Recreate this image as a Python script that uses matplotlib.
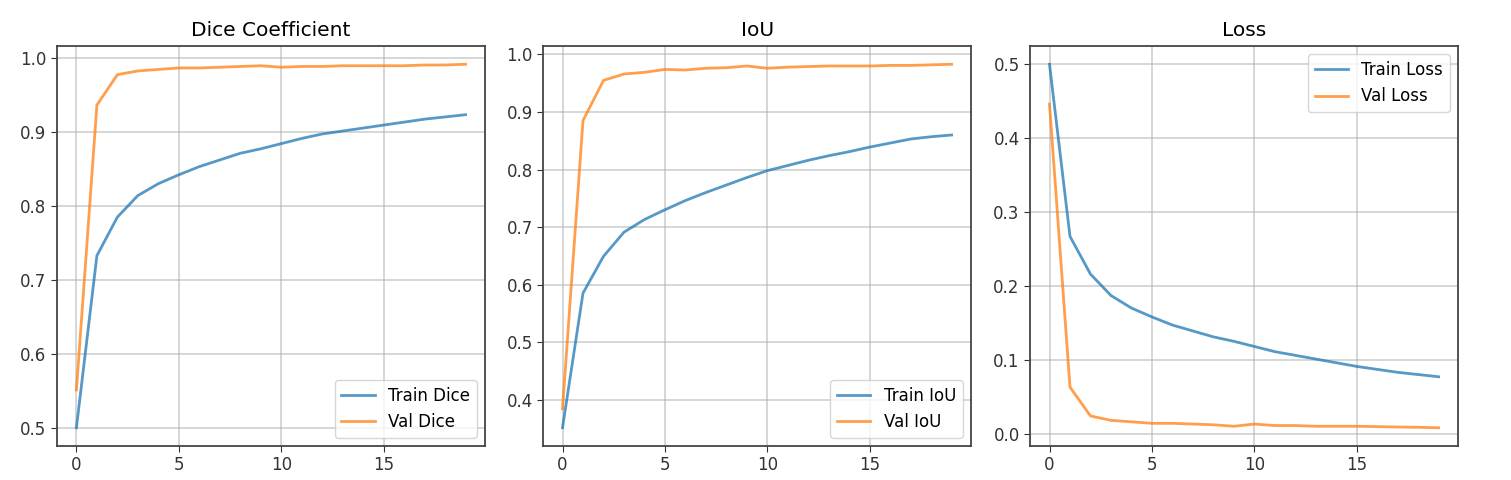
import matplotlib
matplotlib.use("Agg")
import matplotlib.pyplot as plt
import numpy as np

# ============================
# Training history
# ============================
epochs = np.arange(20)

train_dice = [0.501, 0.733, 0.785, 0.814, 0.830, 0.842, 0.853, 0.862, 0.871, 0.877,
              0.884, 0.891, 0.897, 0.901, 0.905, 0.909, 0.913, 0.917, 0.920, 0.923]
val_dice = [0.552, 0.936, 0.977, 0.982, 0.984, 0.986, 0.986, 0.987, 0.988, 0.989,
            0.987, 0.988, 0.988, 0.989, 0.989, 0.989, 0.989, 0.990, 0.990, 0.991]

train_iou = [0.351, 0.585, 0.649, 0.691, 0.713, 0.730, 0.746, 0.760, 0.773, 0.786,
             0.798, 0.807, 0.816, 0.824, 0.831, 0.839, 0.846, 0.853, 0.857, 0.860]
val_iou = [0.384, 0.885, 0.955, 0.966, 0.969, 0.974, 0.973, 0.976, 0.977, 0.980,
           0.976, 0.978, 0.979, 0.980, 0.980, 0.980, 0.981, 0.981, 0.982, 0.983]

train_loss = [0.500, 0.267, 0.216, 0.187, 0.170, 0.158, 0.147, 0.139, 0.131, 0.125,
              0.118, 0.111, 0.106, 0.101, 0.096, 0.091, 0.087, 0.083, 0.080, 0.077]
val_loss = [0.446, 0.063, 0.024, 0.018, 0.016, 0.014, 0.014, 0.013, 0.012, 0.010,
            0.013, 0.011, 0.011, 0.010, 0.010, 0.010, 0.0095, 0.009, 0.0086, 0.008]

panels = [
    ("Dice Coefficient", train_dice, val_dice, "Train Dice", "Val Dice", "lower right"),
    ("IoU", train_iou, val_iou, "Train IoU", "Val IoU", "lower right"),
    ("Loss", train_loss, val_loss, "Train Loss", "Val Loss", "upper right"),
]

# ============================
# Plot
# ============================
fig = plt.figure(figsize=(15.11, 4.8), dpi=100)
lefts = [0.0377, 0.3594, 0.6817]
width = 0.2833

for left, (title, tr, va, tr_lab, va_lab, loc) in zip(lefts, panels):
    ax = fig.add_axes([left, 0.071, width, 0.833])
    ax.plot(epochs, tr, color="tab:blue", linewidth=2, alpha=0.75, label=tr_lab)
    ax.plot(epochs, va, color="tab:orange", linewidth=2, alpha=0.75, label=va_lab)
    ax.set_title(title, fontsize=14.5, pad=7)
    ax.grid(True, color="#b0b0b0", alpha=0.6, linewidth=1.2)
    ax.tick_params(labelsize=12, colors="#333333", length=4)
    for spine in ax.spines.values():
        spine.set_color("#444444")
        spine.set_linewidth(1.3)
    ax.set_xticks([0, 5, 10, 15])
    ax.legend(loc=loc, fontsize=12)

fig.savefig("out.png", dpi=100)
